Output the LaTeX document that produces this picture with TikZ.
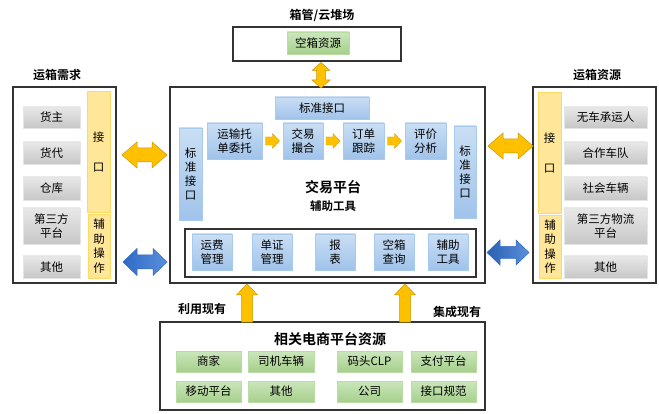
\documentclass[tikz,border=0pt]{standalone}
\usepackage{fontspec}
\setmainfont{Noto Sans CJK SC}[BoldFont={Noto Sans CJK SC Bold}]
\usetikzlibrary{calc}
\definecolor{goldf}{HTML}{FFC000}
\definecolor{goldd}{HTML}{C99700}
\definecolor{bluef}{HTML}{2E6AC6}
\definecolor{bluel}{HTML}{5B8FDB}
\definecolor{yelf}{HTML}{FFE699}
\definecolor{yeld}{HTML}{FFD966}
\definecolor{bltop}{HTML}{CADEF4}
\definecolor{blbot}{HTML}{A0C3EA}
\definecolor{blbrd}{HTML}{A8CAEC}
\definecolor{grtop}{HTML}{CBE6BC}
\definecolor{grbot}{HTML}{A6CF8C}
\definecolor{grbrd}{HTML}{B9DCA5}
\begin{document}
\begin{tikzpicture}[x=1pt,y=-1pt,
  base/.style={inner sep=0pt,align=center,font=\fontsize{11.5}{14}\selectfont},
  graybox/.style={base,top color=black!9,bottom color=black!22,draw=black!10,line width=0.8pt},
  yelbox/.style={base,fill=yelf,draw=yeld,line width=0.8pt},
  bluebox/.style={base,top color=bltop,bottom color=blbot,draw=blbrd,line width=0.8pt},
  greenbox/.style={base,top color=grtop,bottom color=grbot,draw=grbrd,line width=0.8pt},
  frame/.style={draw=black!80,line width=1.1pt,fill=white},
  ttl/.style={font=\bfseries\fontsize{12}{14}\selectfont,inner sep=0pt},
  goldarr/.style={fill=goldf,draw=goldd,line width=0.5pt,line join=miter},
  bluearr/.style={left color=bluef,right color=bluel,draw=bluef,line width=0.5pt},
  bluearrR/.style={left color=bluef!90!black,right color=bluel,draw=bluef,line width=0.5pt}]
\useasboundingbox[fill=white] (0,0) rectangle (659,414);

% ---------- left panel ----------
\node[ttl] (lt) at (57,75) {运箱需求};
\draw[frame] (13,87) rectangle (116,283);
\node[graybox,minimum width=57,minimum height=21] (l1) at (51.5,117.5) {货主};
\node[graybox,minimum width=57,minimum height=22] (l2) at (51.5,153) {货代};
\node[graybox,minimum width=57,minimum height=23] (l3) at (51.5,188.5) {仓库};
\node[graybox,minimum width=57,minimum height=36] (l4) at (51.5,226) {第三方\\平台};
\node[graybox,minimum width=57,minimum height=22] (l5) at (51.5,267) {其他};
\node[yelbox,minimum width=23,minimum height=121] (ly1) at (98.5,151.5) {接\\[16pt]口};
\node[yelbox,minimum width=22,minimum height=64,font=\fontsize{11.5}{14.5}\selectfont] (ly2) at (99,246) {辅\\助\\操\\作};

% ---------- right panel ----------
\node[ttl] (rt) at (597,75) {运箱资源};
\draw[frame] (533,87) rectangle (656,283);
\node[graybox,minimum width=83,minimum height=21] (r1) at (605.5,117.5) {无车承运人};
\node[graybox,minimum width=83,minimum height=22] (r2) at (605.5,153) {合作车队};
\node[graybox,minimum width=83,minimum height=23] (r3) at (605.5,188.5) {社会车辆};
\node[graybox,minimum width=83,minimum height=36] (r4) at (605.5,226) {第三方物流\\平台};
\node[graybox,minimum width=83,minimum height=22] (r5) at (605.5,267) {其他};
\node[yelbox,minimum width=23,minimum height=121] (ry1) at (549.5,152.5) {接\\[16pt]口};
\node[yelbox,minimum width=22,minimum height=63,font=\fontsize{11.5}{14.5}\selectfont] (ry2) at (550,246.5) {辅\\助\\操\\作};

% ---------- top ----------
\node[ttl] (tt) at (322,15) {箱管/云堆场};
\draw[frame] (233,27) rectangle (401,61);
\node[greenbox,minimum width=62,minimum height=22] (tg) at (318,43) {空箱资源};

% ---------- main ----------
\draw[frame] (170,87) rectangle (485,283);
\node[bluebox,minimum width=94,minimum height=22] (st) at (322,108) {标准接口};
\node[bluebox,minimum width=23,minimum height=92,font=\fontsize{11.5}{13.7}\selectfont] (sl) at (190.5,174) {标\\准\\接\\口};
\node[bluebox,minimum width=22,minimum height=92,font=\fontsize{11.5}{13.7}\selectfont] (sr) at (465,172) {标\\准\\接\\口};
\node[bluebox,minimum width=55,minimum height=36] (p1) at (234.5,141) {运输托\\单委托};
\node[bluebox,minimum width=40,minimum height=36] (p2) at (303,141) {交易\\撮合};
\node[bluebox,minimum width=41,minimum height=36] (p3) at (363.5,141) {订单\\跟踪};
\node[bluebox,minimum width=41,minimum height=36] (p4) at (425.5,141) {评价\\分析};
\node[font=\bfseries\fontsize{14}{16}\selectfont,inner sep=0pt] (mt) at (333,187) {交易平台};
\node[font=\bfseries\fontsize{11.5}{14}\selectfont,inner sep=0pt] (ms) at (333,206) {辅助工具};
\draw[draw=black!80,line width=1.1pt] (185,229) rectangle (476,277);
\node[bluebox,minimum width=40,minimum height=36] (t1) at (212,252) {运费\\管理};
\node[bluebox,minimum width=40,minimum height=36] (t2) at (272,252) {单证\\管理};
\node[bluebox,minimum width=40,minimum height=36] (t3) at (335,252) {报\\表};
\node[bluebox,minimum width=40,minimum height=36] (t4) at (394,252) {空箱\\查询};
\node[bluebox,minimum width=40,minimum height=36] (t5) at (448,252) {辅助\\工具};

% small flow arrows
\foreach \a/\b in {p1/p2,p2/p3,p3/p4}{
  \path ($(\a.east)!0.5!(\b.west)$) coordinate (m);
  \draw[goldarr,line width=0.3pt] ($(m)+(-7,-4)$) -- ($(m)+(0,-4)$) -- ($(m)+(0,-7.5)$) -- ($(m)+(7,0)$)
     -- ($(m)+(0,7.5)$) -- ($(m)+(0,4)$) -- ($(m)+(-7,4)$) -- cycle;
}

% ---------- bottom ----------
\draw[frame] (160,322) rectangle (485,410);
\node[font=\bfseries\fontsize{14}{16}\selectfont,inner sep=0pt] (bt) at (330,339) {相关电商平台资源};
\node[greenbox,minimum width=65,minimum height=21] (b1) at (208.5,361.5) {商家};
\node[greenbox,minimum width=66,minimum height=21] (b2) at (281,361.5) {司机车辆};
\node[greenbox,minimum width=65,minimum height=21] (b3) at (369.5,361.5) {码头CLP};
\node[greenbox,minimum width=65,minimum height=21] (b4) at (443.5,361.5) {支付平台};
\node[greenbox,minimum width=65,minimum height=21] (b5) at (208.5,391.5) {移动平台};
\node[greenbox,minimum width=66,minimum height=21] (b6) at (281,391.5) {其他};
\node[greenbox,minimum width=65,minimum height=21] (b7) at (369.5,391.5) {公司};
\node[greenbox,minimum width=65,minimum height=21] (b8) at (443.5,391.5) {接口规范};
\node[ttl] (u1) at (202,309) {利用现有};
\node[ttl] (u2) at (457,312) {集成现有};

% ---------- block arrows ----------
% left gold
\draw[goldarr] (122,155) -- (137,142) -- (137,148) -- (152,148) -- (152,142) -- (167,155)
  -- (152,168) -- (152,162) -- (137,162) -- (137,168) -- cycle;
% right gold
\draw[goldarr] (488,146) -- (503,133) -- (503,139) -- (518,139) -- (518,133) -- (533,146)
  -- (518,159) -- (518,153) -- (503,153) -- (503,159) -- cycle;
% left blue
\draw[bluearr] (123,262) -- (137,248.5) -- (137,255) -- (153,255) -- (153,248.5) -- (167,262)
  -- (153,275.5) -- (153,269) -- (137,269) -- (137,275.5) -- cycle;
% right blue
\draw[bluearrR] (487,252.5) -- (500,240) -- (500,246.5) -- (516,246.5) -- (516,240) -- (529,252.5)
  -- (516,265) -- (516,258.5) -- (500,258.5) -- (500,265) -- cycle;
% top vertical
\draw[goldarr] (321,62.5) -- (330,70.5) -- (325.5,70.5) -- (325.5,80) -- (330,80) -- (321,88)
  -- (312,80) -- (316.5,80) -- (316.5,70.5) -- (312,70.5) -- cycle;
% up arrows
\draw[goldarr] (247,284) -- (257.5,295) -- (252.5,295) -- (252.5,322) -- (241.5,322) -- (241.5,295) -- (236.5,295) -- cycle;
\draw[goldarr] (405,284) -- (415.5,295) -- (410.5,295) -- (410.5,322) -- (399.5,322) -- (399.5,295) -- (394.5,295) -- cycle;
\end{tikzpicture}
\end{document}
